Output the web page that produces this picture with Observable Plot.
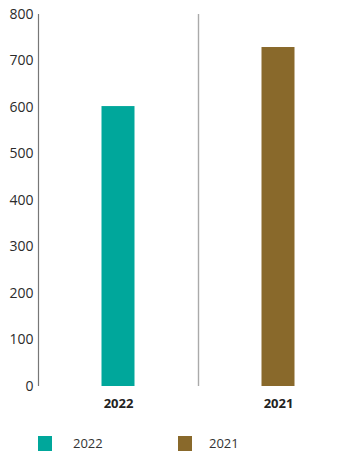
<!DOCTYPE html>
<html>
<head>
<meta charset="utf-8">
<script src="https://cdn.jsdelivr.net/npm/d3@7"></script>
<script src="https://cdn.jsdelivr.net/npm/@observablehq/plot@0.6"></script>
<style>
  body { margin: 0; background: #fff; font-family: "Open Sans", sans-serif; }
  #chart svg { display: block; }
  .legend { position: relative; height: 20px; margin-top: 10px; font-size: 13px; color: #333; }
  .legend .item { position: absolute; top: 0; display: flex; align-items: center; }
  .legend .sw { width: 14px; height: 15px; display: inline-block; }
</style>
</head>
<body>
<div id="chart"></div>
<div class="legend" id="legend"></div>
<script>
const years = ["2022", "2021"];
const values = [602, 729];
const colors = ["#00a79b", "#89692b"];
const yTicks = [0, 100, 200, 300, 400, 500, 600, 700, 800];

const data = years.map((year, i) => ({year, value: values[i]}));

const width = 357;
const marginLeft = 38;
const marginRight = -1;
const step = (width - marginLeft - marginRight) / years.length;
const barWidth = 33;
const inset = (step - barWidth) / 2;

const chart = Plot.plot({
  width,
  height: 424,
  marginLeft,
  marginRight,
  marginTop: 14,
  marginBottom: 38,
  style: {fontFamily: "Open Sans, sans-serif", fontSize: "13px", color: "#333"},
  x: {domain: years, padding: 0, axis: null},
  y: {domain: [0, 800], axis: null},
  color: {domain: years, range: colors},
  marks: [
    Plot.barY(data, {x: "year", y: "value", fill: "year", insetLeft: inset, insetRight: inset}),
    // left axis line
    Plot.ruleX([0], {x: () => years[0], dx: -step / 2, y1: 0, y2: 800, stroke: "#777", strokeWidth: 1.2}),
    // divider between the two groups
    Plot.ruleX([years[1]], {dx: -step / 2, y1: 0, y2: 800, stroke: "#aaa", strokeWidth: 1.4}),
    // y tick labels
    Plot.text(yTicks, {x: () => years[0], dx: -step / 2 - 5, y: d => d, text: d => String(d), textAnchor: "end", fontSize: 14, fill: "#2b2b2b"}),
    // bold category labels
    Plot.axisX({anchor: "bottom", tickSize: 0, tickPadding: 12, label: null, fontWeight: "bold", fontSize: 13, fill: "#222"})
  ]
});

document.getElementById("chart").appendChild(chart);

const legend = document.getElementById("legend");
const swatchLeft = [38, 178];
const labelGap = [21, 17];
years.forEach((y, i) => {
  const item = document.createElement("div");
  item.className = "item";
  item.style.left = swatchLeft[i] + "px";
  item.innerHTML = `<span class="sw" style="background:${colors[i]}"></span><span style="margin-left:${labelGap[i]}px">${y}</span>`;
  legend.appendChild(item);
});
</script>
</body>
</html>
